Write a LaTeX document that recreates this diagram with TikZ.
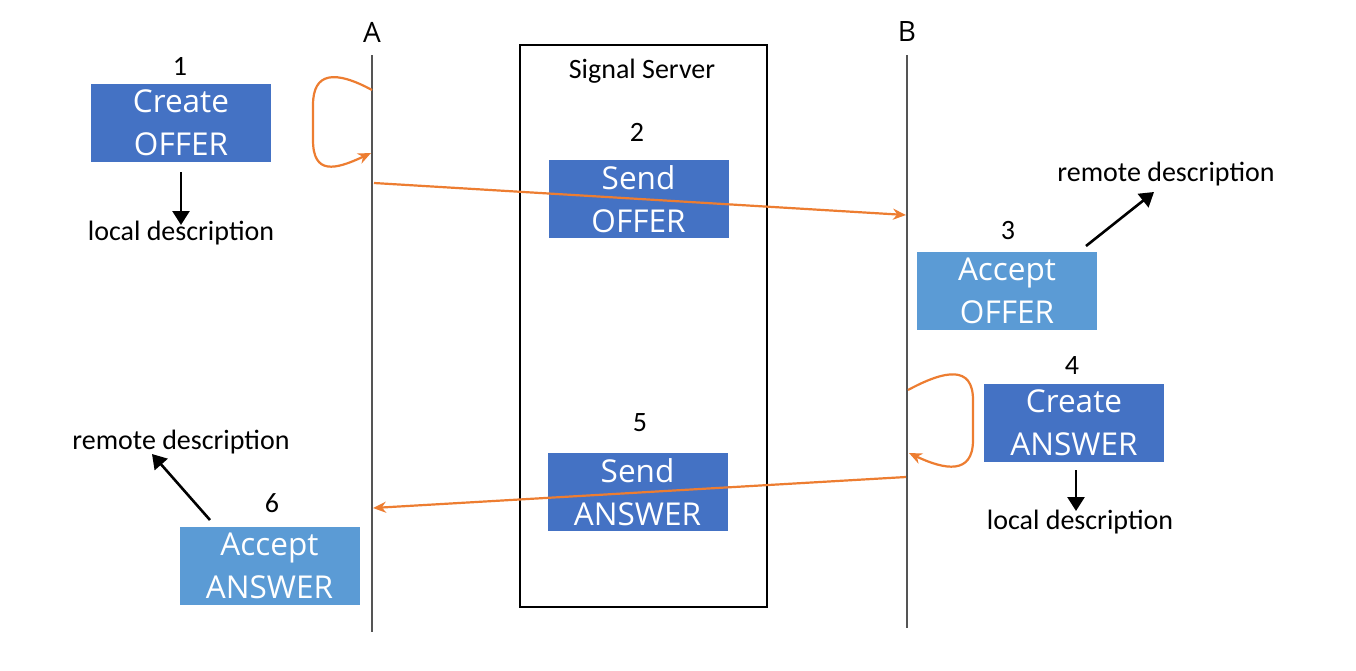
\documentclass[tikz,border=0pt]{standalone}
\usepackage{fontspec}
\setmainfont{Carlito}
\newfontfamily\boxfont{Open Sans}
\usetikzlibrary{arrows.meta}
\definecolor{dkblue}{HTML}{4472C4}
\definecolor{ltblue}{HTML}{5B9BD5}
\definecolor{orng}{HTML}{ED7D31}
\definecolor{lifegray}{HTML}{555555}
\tikzset{
  box/.style={minimum width=180pt,minimum height=78pt,inner sep=0pt,text=white,align=center,
    font=\boxfont\fontsize{31.5}{43}\selectfont},
  dkbox/.style={box,fill=dkblue},
  ltbox/.style={box,fill=ltblue},
  lbl/.style={inner sep=0pt,font=\fontsize{28}{30}\selectfont},
  lifelbl/.style={inner sep=0pt,font=\boxfont\fontsize{28}{30}\selectfont},
  life/.style={draw=lifegray,line width=1.8pt},
  msg/.style={draw=orng,line width=2.2pt,-{Stealth[length=13pt,width=11pt]}},
  blk/.style={draw=black,line width=2.6pt,-{Triangle[length=14pt,width=17pt]}}
}
\begin{document}
\begin{tikzpicture}[x=1pt,y=-1pt]
\useasboundingbox (0,0) rectangle (1356,670);
\fill[white] (0,0) rectangle (1356,670);
% lifelines
\node[lifelbl] (A) at (372,32) {A};
\node[lifelbl] (B) at (907,32) {B};
\coordinate (Atop) at (372,55);
\coordinate (Abot) at (372,632);
\coordinate (Btop) at (907,55);
\coordinate (Bbot) at (907,628);
\draw[life] (Atop) -- (Abot);
\draw[life] (Btop) -- (Bbot);
% server
\node[draw=black,line width=2pt,minimum width=247pt,minimum height=562pt,inner sep=0pt] (srv) at (643.5,326) {};
\node[lbl] (srvl) at (642,71) {Signal Server};
% boxes
\node[dkbox] (b1) at (181,123) {Create\\OFFER};
\node[lbl] (n1) at (180,66) {1};
\node[dkbox] (b2) at (638.5,199) {Send\\OFFER};
\node[lbl] (n2) at (637,132) {2};
\node[ltbox] (b3) at (1007,291) {Accept\\OFFER};
\node[lbl] (n3) at (1008,231) {3};
\node[dkbox] (b4) at (1074,422.5) {Create\\ANSWER};
\node[lbl] (n4) at (1072,366) {4};
\node[dkbox] (b5) at (637.5,492) {Send\\ANSWER};
\node[lbl] (n5) at (640,423) {5};
\node[ltbox] (b6) at (269.5,566) {Accept\\ANSWER};
\node[lbl] (n6) at (272,503) {6};
% descriptions
\node[lbl] (d1) at (181,233) {local description};
\node[lbl] (d3) at (1166,174) {remote description};
\node[lbl] (d4) at (1080,522) {local description};
\node[lbl] (d6) at (181,442) {remote description};
\coordinate (d1s) at (181,172);
\coordinate (d1e) at (181,225);
\coordinate (d3s) at (1086,246);
\coordinate (d3e) at (1154,192);
\coordinate (d4s) at (1076,470);
\coordinate (d4e) at (1076,511);
\coordinate (d6s) at (210,520);
\coordinate (d6e) at (152,454);
\draw[blk] (d1s) -- (d1e);
\draw[blk] (d3s) -- (d3e);
\draw[blk] (d4s) -- (d4e);
\draw[blk] (d6s) -- (d6e);
% messages
\coordinate (m1s) at (374,183);
\coordinate (m1e) at (906,215);
\coordinate (m2s) at (906,477);
\coordinate (m2e) at (373,508);
\draw[msg] (m1s) -- (m1e);
\draw[msg] (m2s) -- (m2e);
% self loops
\coordinate (la1) at (372,90);
\coordinate (la2) at (371,153);
\draw[msg] (la1) .. controls (335,70) and (313,72) .. (313,105)
  -- (313,140) .. controls (313,175) and (335,170) .. (la2);
\coordinate (lb1) at (908,390);
\coordinate (lb2) at (909,453);
\draw[msg] (lb1) .. controls (945,370) and (973,365) .. (973,400)
  -- (973,440) .. controls (973,475) and (945,470) .. (lb2);
\end{tikzpicture}
\end{document}
